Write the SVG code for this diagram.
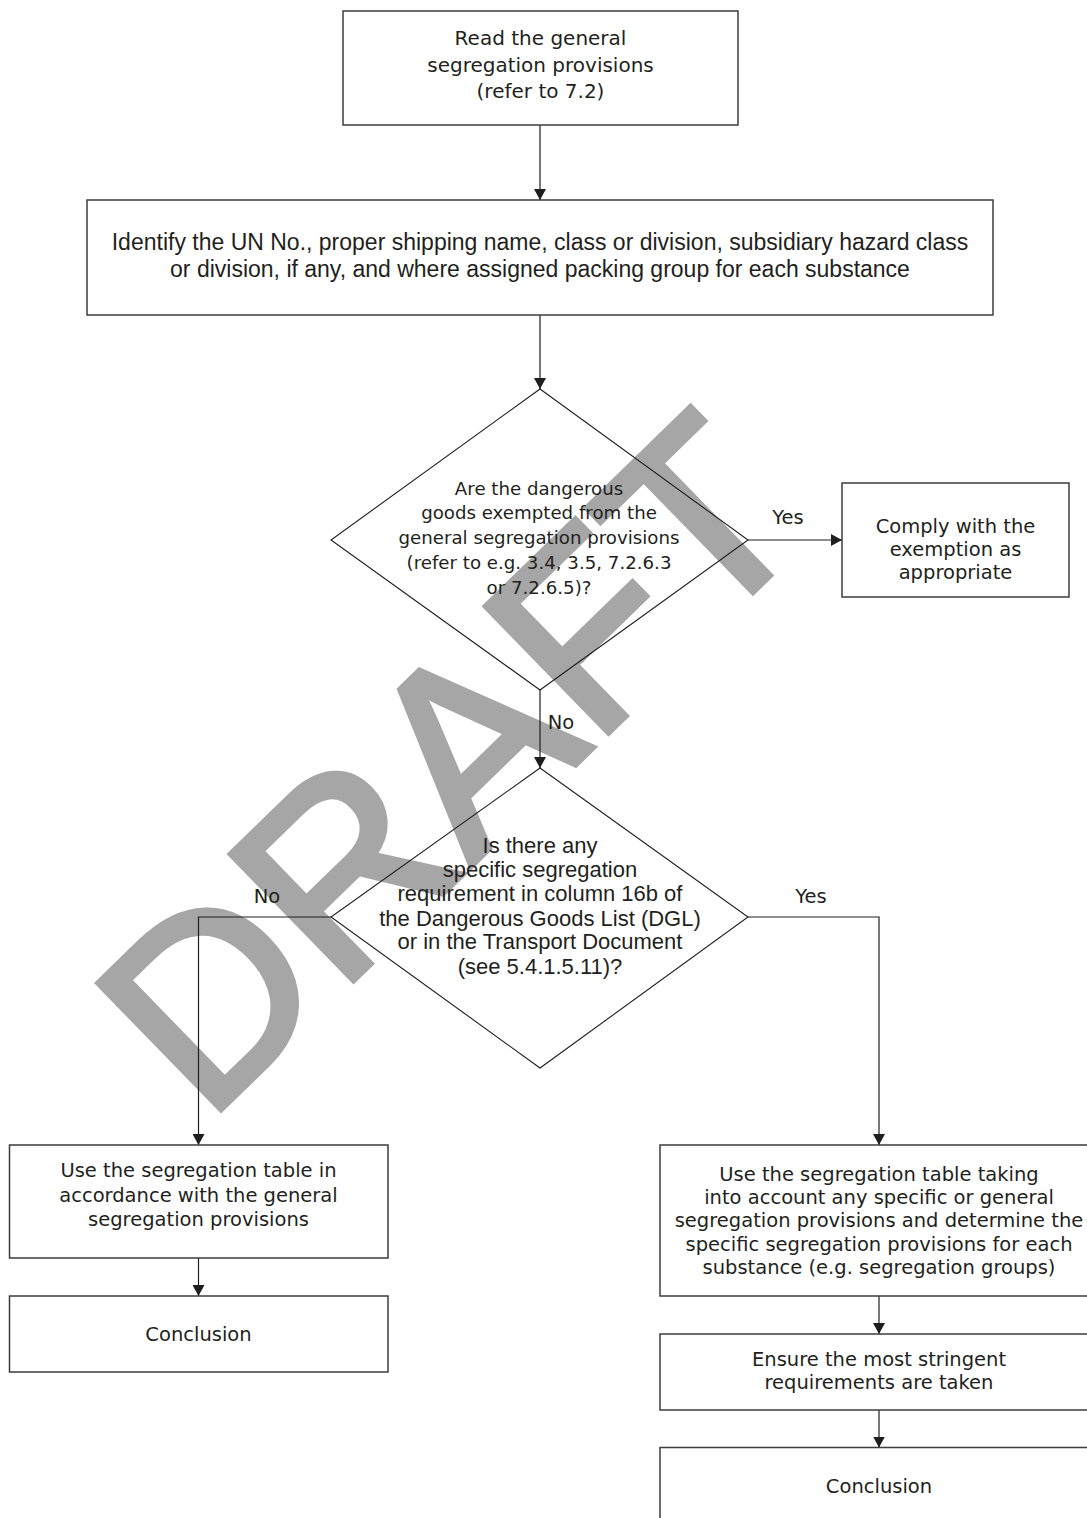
<svg xmlns="http://www.w3.org/2000/svg" width="1087" height="1518" viewBox="0 0 1087 1518">
<style>
.bx{fill:none;stroke:#3c3c3c;stroke-width:1.5}
.dm{fill:none;stroke:#1e1e1e;stroke-width:1.1}
.ln{fill:none;stroke:#1e1e1e;stroke-width:1.2}
.w{font-family:"DejaVu Sans",sans-serif;font-size:19.5px;fill:#231f20;text-anchor:middle}
.n{font-family:"Liberation Sans",Arial,sans-serif;font-size:22px;fill:#231f20;text-anchor:middle}
.wm{font-family:"Liberation Sans",Arial,sans-serif;font-size:256px;fill:#a6a6a6;stroke:#a6a6a6;stroke-width:6;stroke-linejoin:miter}
</style>
<defs>
<marker id="ah" viewBox="0 0 11 12" refX="11" refY="6" markerWidth="11" markerHeight="12" markerUnits="userSpaceOnUse" orient="auto">
<path d="M0,0 L11,6 L0,12 z" fill="#1e1e1e"/>
</marker>
</defs>
<rect width="1087" height="1518" fill="#ffffff"/>
<text class="wm" transform="translate(206,1124) rotate(-44.2)" x="0" y="0">DRAFT</text>

<g id="connectors">
<line class="ln" x1="540" y1="125" x2="540" y2="200" marker-end="url(#ah)"/>
<line class="ln" x1="540" y1="315" x2="540" y2="389" marker-end="url(#ah)"/>
<line class="ln" x1="748" y1="540" x2="842" y2="540" marker-end="url(#ah)"/>
<line class="ln" x1="540" y1="690" x2="540" y2="768" marker-end="url(#ah)"/>
<polyline class="ln" points="331,917 198.5,917 198.5,1145" marker-end="url(#ah)"/>
<polyline class="ln" points="748,917 879,917 879,1145" marker-end="url(#ah)"/>
<line class="ln" x1="198.5" y1="1258" x2="198.5" y2="1296" marker-end="url(#ah)"/>
<line class="ln" x1="879" y1="1296" x2="879" y2="1334" marker-end="url(#ah)"/>
<line class="ln" x1="879" y1="1410" x2="879" y2="1447.5" marker-end="url(#ah)"/>
<text class="w" x="788" y="524">Yes</text>
<text class="w" x="561" y="729">No</text>
<text class="w" x="267" y="903">No</text>
<text class="w" x="811" y="903">Yes</text>
</g>

<g id="read">
<rect class="bx" x="343" y="11" width="395" height="114"/>
<text class="w" style="font-size:20px" x="540.5" y="45">Read the general</text>
<text class="w" style="font-size:20px" x="540.5" y="71.5">segregation provisions</text>
<text class="w" style="font-size:20px" x="540.5" y="98">(refer to 7.2)</text>
</g>

<g id="identify">
<rect class="bx" x="87" y="200" width="906" height="115"/>
<text class="n" style="font-size:23px" x="540" y="250">Identify the UN No., proper shipping name, class or division, subsidiary hazard class</text>
<text class="n" style="font-size:23px" x="540" y="277">or division, if any, and where assigned packing group for each substance</text>
</g>

<g id="exempt">
<polygon class="dm" points="540,389 748,540 540,690 331,540"/>
<text class="w" style="font-size:18.2px" x="539" y="495">Are the dangerous</text>
<text class="w" style="font-size:18.2px" x="539" y="519">goods exempted from the</text>
<text class="w" style="font-size:18.2px" x="539" y="544">general segregation provisions</text>
<text class="w" style="font-size:18.2px" x="539" y="569">(refer to e.g. 3.4, 3.5, 7.2.6.3</text>
<text class="w" style="font-size:18.2px" x="539" y="593.5">or 7.2.6.5)?</text>
</g>

<g id="comply">
<rect class="bx" x="842" y="483" width="227" height="114"/>
<text class="w" x="955.5" y="533">Comply with the</text>
<text class="w" x="955.5" y="556">exemption as</text>
<text class="w" x="955.5" y="579">appropriate</text>
</g>

<g id="specific">
<polygon class="dm" points="540,768 748,917 540,1068 331,917"/>
<text class="n" x="540" y="853">Is there any</text>
<text class="n" x="540" y="877">specific segregation</text>
<text class="n" x="540" y="901">requirement in column 16b of</text>
<text class="n" x="540" y="925.5">the Dangerous Goods List (DGL)</text>
<text class="n" x="540" y="949">or in the Transport Document</text>
<text class="n" x="540" y="973.5">(see 5.4.1.5.11)?</text>
</g>

<g id="general-table">
<rect class="bx" x="9.5" y="1145" width="378.5" height="113"/>
<text class="w" x="198.5" y="1177">Use the segregation table in</text>
<text class="w" x="198.5" y="1201.5">accordance with the general</text>
<text class="w" x="198.5" y="1225.5">segregation provisions</text>
</g>

<g id="conclusion-left">
<rect class="bx" x="9.5" y="1296" width="378.5" height="76"/>
<text class="w" x="198.5" y="1341">Conclusion</text>
</g>

<g id="specific-table">
<rect class="bx" x="660" y="1145" width="438" height="151"/>
<text class="w" x="879" y="1180.5">Use the segregation table taking</text>
<text class="w" x="879" y="1204">into account any specific or general</text>
<text class="w" x="879" y="1227.3">segregation provisions and determine the</text>
<text class="w" x="879" y="1250.7">specific segregation provisions for each</text>
<text class="w" x="879" y="1274">substance (e.g. segregation groups)</text>
</g>

<g id="stringent">
<rect class="bx" x="660" y="1334" width="438" height="76"/>
<text class="w" x="879" y="1365.5">Ensure the most stringent</text>
<text class="w" x="879" y="1389">requirements are taken</text>
</g>

<g id="conclusion-right">
<rect class="bx" x="660" y="1447.5" width="438" height="100"/>
<text class="w" x="879" y="1493">Conclusion</text>
</g>
</svg>
